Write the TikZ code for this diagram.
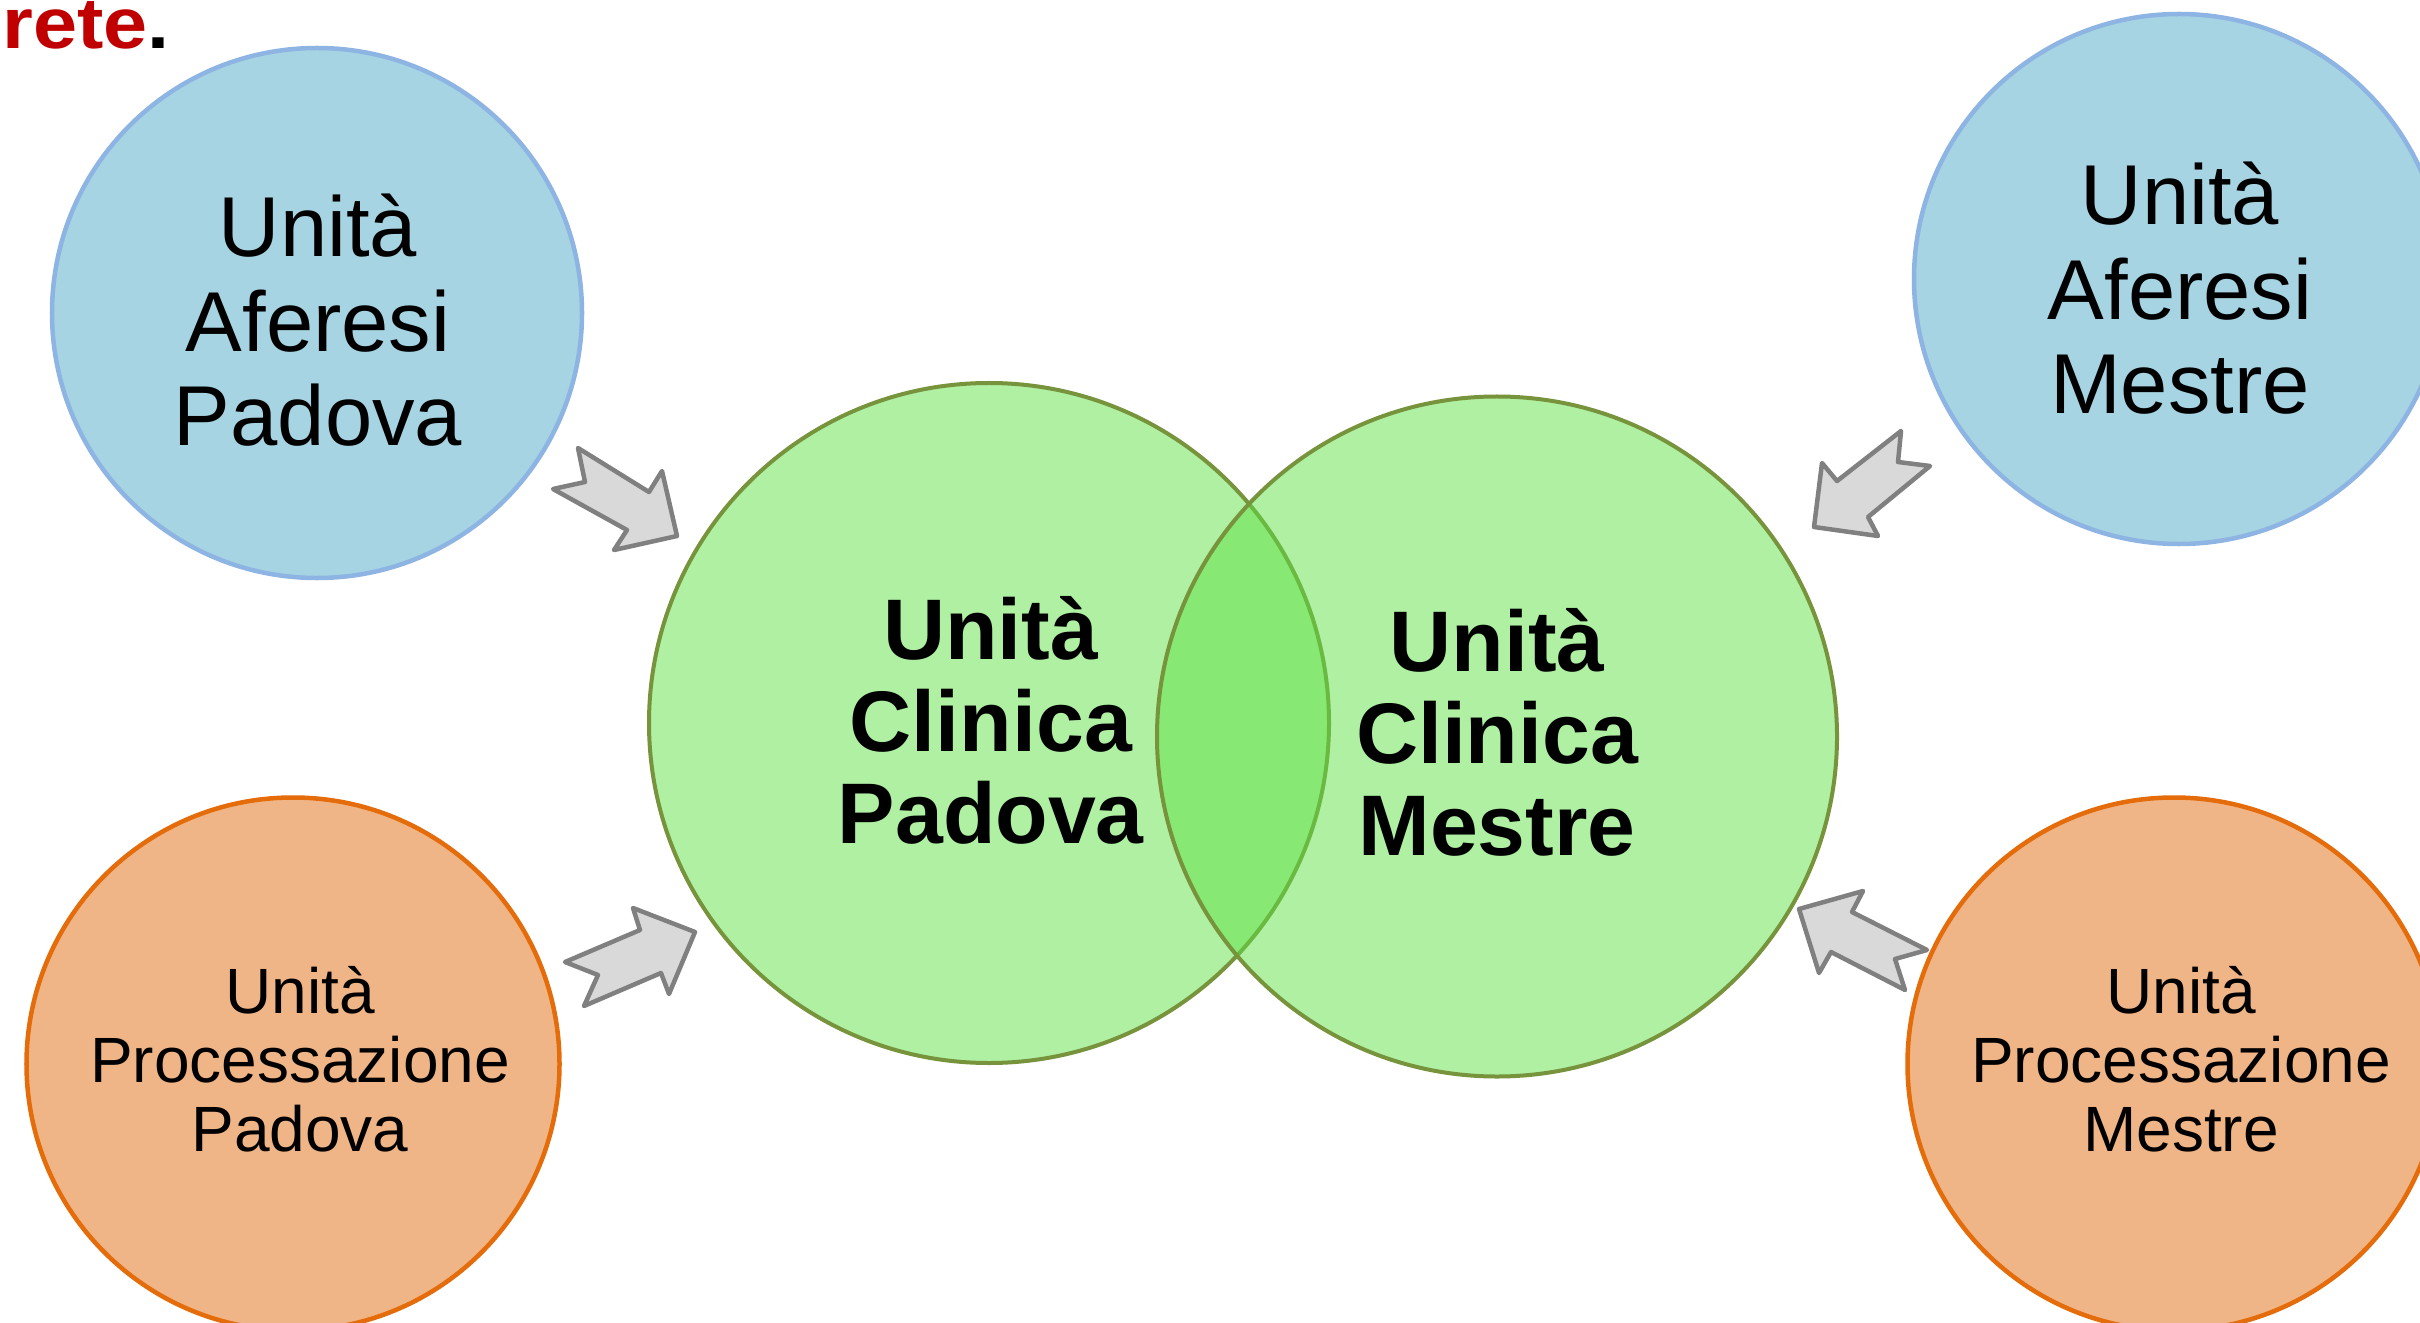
\documentclass[tikz,border=0pt]{standalone}
\usepackage{fontspec}
\setmainfont{Liberation Sans}
\newfontfamily\titlefont[FakeStretch=1.1]{Liberation Sans}
\definecolor{bluefill}{HTML}{A6D4E2}
\definecolor{blueline}{HTML}{8DB4E2}
\definecolor{orangefill}{HTML}{F0B586}
\definecolor{orangeline}{HTML}{E46C0A}
\definecolor{greenfill}{HTML}{5FE147}
\definecolor{greenline}{HTML}{77933C}
\definecolor{arrowfill}{HTML}{D9D9D9}
\definecolor{arrowline}{HTML}{808080}
\definecolor{titlered}{HTML}{C00000}
\tikzset{
  bluec/.style={circle, draw=blueline, line width=4.5bp, fill=bluefill, inner sep=0pt},
  orangec/.style={circle, draw=orangeline, line width=4.5bp, fill=orangefill, inner sep=0pt},
  greenc/.style={circle, draw=greenline, line width=4bp, fill=greenfill, fill opacity=0.5, draw opacity=1, inner sep=0pt},
  bigtext/.style={align=center, inner sep=0pt, font=\fontsize{85bp}{94.6bp}\selectfont},
  smalltext/.style={align=center, inner sep=0pt, font=\fontsize{64bp}{69bp}\selectfont},
  greentext/.style={align=center, inner sep=0pt, font=\bfseries\fontsize{86bp}{92bp}\selectfont},
  blockarrow/.style={draw=arrowline, fill=arrowfill, line width=4.5bp, line join=round}
}
\begin{document}
\begin{tikzpicture}[x=1bp,y=-1bp]
\useasboundingbox (0,0) rectangle (2420,1323);
\clip (0,0) rectangle (2420,1323);

% title fragment
\node[anchor=base east, inner sep=0pt, font=\titlefont\bfseries\fontsize{72bp}{76bp}\selectfont] (title) at (170,49) {\textcolor{titlered}{rete}.};

% outer circles
\node[bluec, minimum size=530bp] (apd) at (317,313) {};
\node[bluec, minimum size=530bp] (ame) at (2179,279) {};
\node[orangec, minimum size=533bp] (ppd) at (293,1064) {};
\node[orangec, minimum size=533bp] (pme) at (2174,1064) {};

\node[bigtext] (tapd) at (318,320.5) {Unità\\Aferesi\\Padova};
\node[bigtext] (tame) at (2180,288.5) {Unità\\Aferesi\\Mestre};
\node[smalltext] (tppd) at (300,1059.5) {Unità\\Processazione\\Padova};
\node[smalltext] (tpme) at (2181,1059.5) {Unità\\Processazione\\Mestre};

% central overlapping circles
\node[greenc, minimum size=680bp] (cpd) at (989,723) {};
\node[greenc, minimum size=680bp] (cme) at (1497,736.5) {};

\node[greentext] (tcpd) at (990.8,720) {Unità\\Clinica\\Padova};
\node[greentext] (tcme) at (1497,732.5) {Unità\\Clinica\\Mestre};

% block arrows
\draw[blockarrow] (578,448) -- (649,492) -- (662,471) -- (677,536) -- (614,550) -- (627,530) -- (553,489) -- (585,482) -- cycle;
\draw[blockarrow] (1901,431) -- (1898,462) -- (1930,466) -- (1868,517) -- (1878,536) -- (1814,527) -- (1822,463) -- (1837,481) -- cycle;
\draw[blockarrow] (633,908) -- (695,932) -- (669,994) -- (661,973) -- (584,1006) -- (598,975) -- (565,962) -- (640,930) -- cycle;
\draw[blockarrow] (1799,909) -- (1863,891) -- (1852,912) -- (1927,950) -- (1895,959) -- (1905,990) -- (1831,952) -- (1819,973) -- cycle;
\end{tikzpicture}
\end{document}
